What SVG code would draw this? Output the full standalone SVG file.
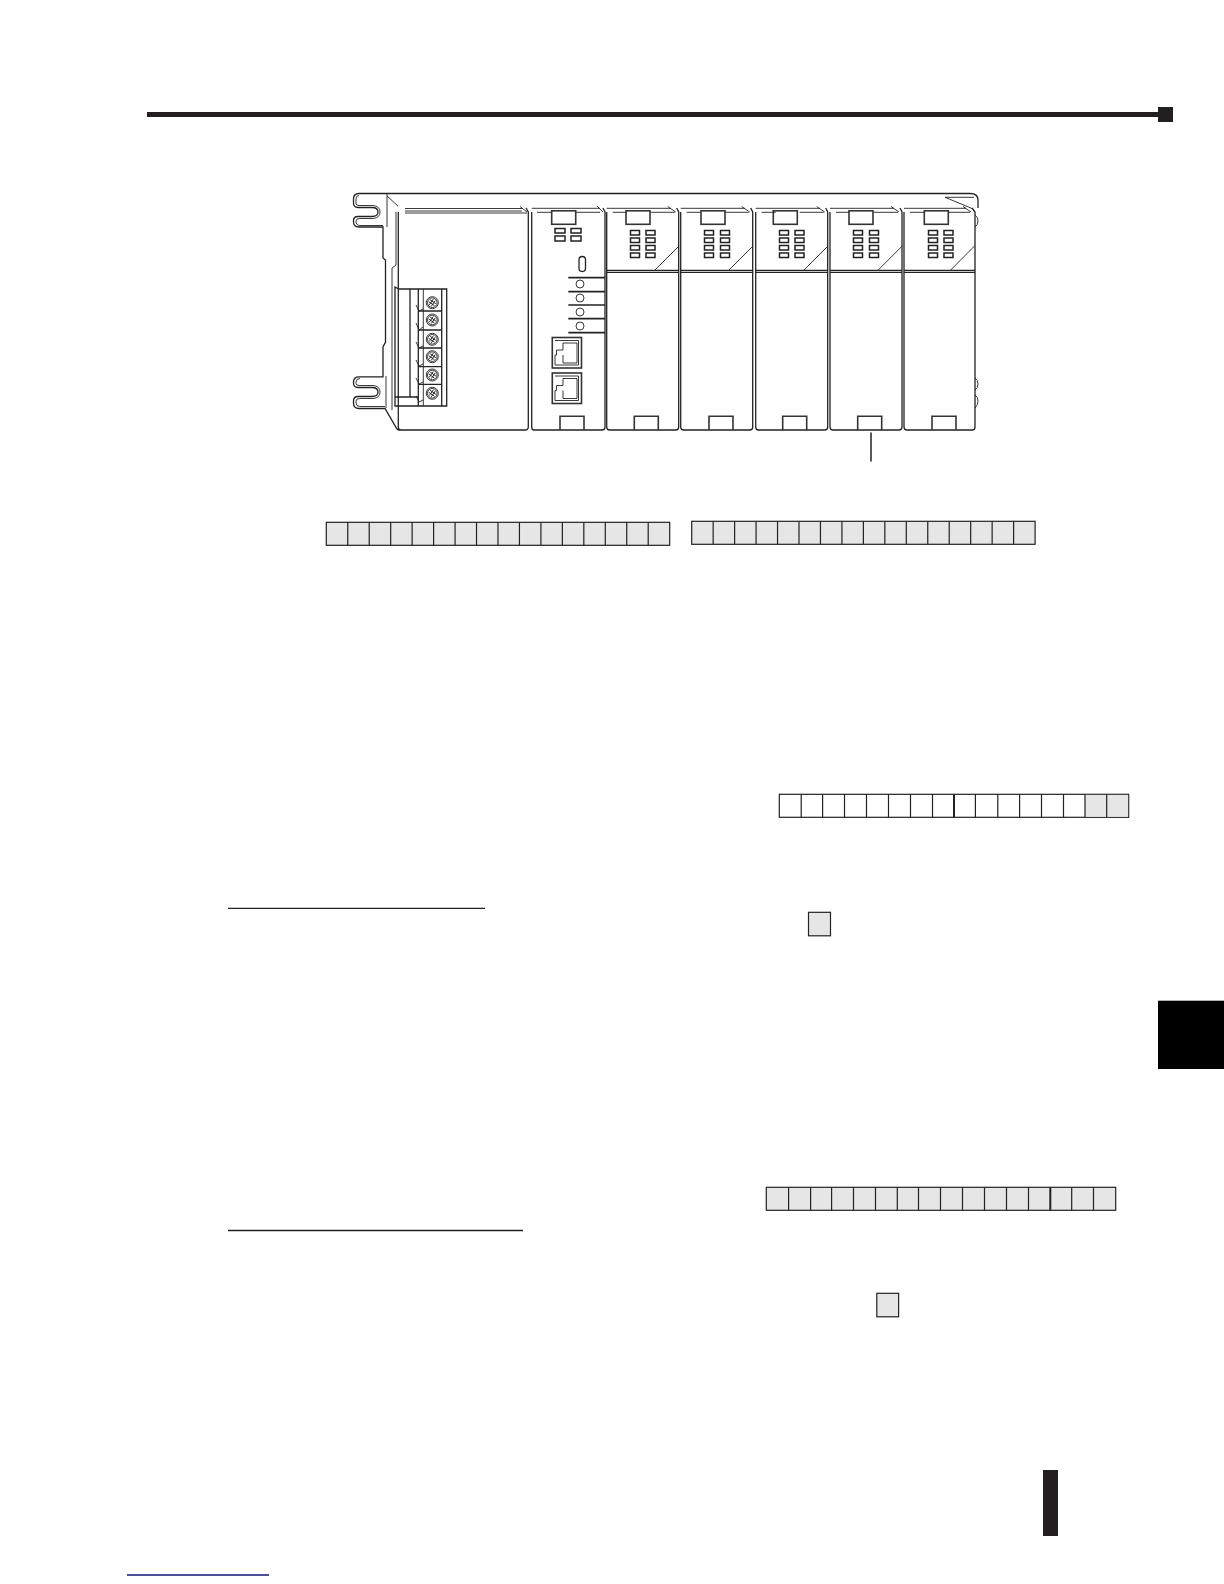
<svg xmlns="http://www.w3.org/2000/svg" width="1224" height="1584" viewBox="0 0 1224 1584">
<style>
.l{fill:none;stroke:#222;stroke-width:.9}
.m{fill:none;stroke:#222;stroke-width:1.3}
.t{fill:none;stroke:#333;stroke-width:1.6}
.h{fill:none;stroke:#222;stroke-width:1.7}
.led{fill:#fff;stroke:#222;stroke-width:1.5}
.g{fill:#e6e6e6;stroke:#222;stroke-width:1.2}
.w{fill:#fff;stroke:#222;stroke-width:1.2}
.d{fill:none;stroke:#222;stroke-width:1.2}
.b{fill:#231f20}
</style>
<defs>
<g id="io-top">
<path class="l" d="M0 208.300H64M61 206.500L69 212M6 212.300H20M44 212.300H68"/>
<path class="m" d="M0 270.300H72M0 272.300H72"/>
</g>
<path id="io-body" class="m" d="M0 212V427Q0 430 3 430H69Q72 430 72 427V212L70 208"/>
<g id="led-column">
<rect class="led" x="0" y="230.500" width="9" height="4.500"/>
<rect class="led" x="0" y="238" width="9" height="4.500"/>
<rect class="led" x="0" y="245.500" width="9" height="4.500"/>
<rect class="led" x="0" y="253" width="9" height="4.500"/>
</g>
<g id="screw">
<circle class="l" r="6"/>
<circle class="l" r="4.800"/>
<path class="l" d="M-3.500 -1.200H3.500M-3.500 1.200H3.500M-1.200 -3.500V3.500M1.200 -3.500V3.500" transform="rotate(35)"/>
</g>
<g id="tab-top"><rect class="t" x="0" y="210.800" width="24" height="13.500"/></g>
<g id="tab-bottom"><path class="t" d="M0 430V416.200H24V430"/></g>
<path id="strip-lines" class="d" d="M21.460 0V23M42.920 0V23M64.380 0V23M85.840 0V23M107.300 0V23M128.760 0V23M150.220 0V23M171.680 0V23M193.140 0V23M214.600 0V23M236.060 0V23M257.520 0V23M278.980 0V23M300.440 0V23M321.900 0V23"/>
</defs>

<g id="page-rule">
<rect class="b" x="147" y="112" width="1012" height="5"/>
<rect class="b" x="1158" y="107" width="15" height="15"/>
</g>

<g id="chassis">
<path class="m" d="M388 193.500H359Q353.500 193.500 353.500 199V203Q353.500 207.500 358 207.500H372Q378 207.500 378 212T372 216.500H358Q353.500 216.500 353.500 220.500V222Q353.500 227 359 227H383V258L385.500 260V342L383 347V376.800H359Q353.500 376.800 353.500 382V383Q353.500 387.500 358 387.500H372Q378 387.500 378 392T372 396.500H358Q353.500 396.500 353.500 401V403Q353.500 408.500 359 408.500H385L397 429Q398 430 400 430"/>
<path class="l" d="M359 195.500Q356 195.500 356 199V203.500Q356 205.500 359 205.500H373Q380 206 380 212Q380 218 373 218.500H360Q356 218.500 356 221Q356 225.500 360 225.500H383M360 378.500Q356 378.500 356 382V383.500Q356 385.500 359 385.500H373Q380 386 380 392Q380 398 373 398.500H360Q356 398.500 356 401V403Q356 406.500 360 406.500H385"/>
<path class="m" d="M388 193.500H970Q978 193.500 978 200V208"/>
<path class="l" d="M387 194V227M387 196L398 206M392 268V410M392 268L396 265V212M386 408V376"/>
<path class="l" d="M945 197.300H974M945 197.300L972 208.500"/>
<path class="l" d="M975 215Q978 217 978 221T975 227M975 378Q978 380 978 384T975 390M975 395Q978 397 978 401T975 408"/>
</g>

<g id="power-module">
<path class="m" d="M398.300 212V427Q398.300 430 401 430H525Q528.300 430 528.300 427V212L526 208"/>
<path class="l" d="M405 208.500H522M405 211H522M405 213H527M520 206.500L527 212"/>
<g id="terminal-block">
<path class="m" d="M395 287L399 289H446.700V406H395Z"/>
<path class="m" d="M410 289V397M395 397H418"/>
<path class="m" d="M418.300 289V406"/>
<path class="l" d="M423.300 289V406"/>
<path class="m" d="M441.700 289V406M418.300 311H441.700M418.300 330H441.700M418.300 348H441.700M418.300 366.700H441.700M418.300 384.300H441.700"/>
<path class="l" d="M416 305L419 311L423 309M416 323L419 330L423 327M416 342L419 348L423 346M416 360L419 366L423 364M416 378L419 384L423 382M416 396L419 402L423 400"/>
<use href="#screw" x="432.300" y="302.700"/>
<use href="#screw" x="432.300" y="320"/>
<use href="#screw" x="432.300" y="339.300"/>
<use href="#screw" x="432.300" y="356.700"/>
<use href="#screw" x="432.300" y="375"/>
<use href="#screw" x="432.300" y="393.300"/>
</g>
</g>

<g id="cpu-module">
<path class="m" d="M531.700 212V427Q531.700 430 534 430H602Q605 430 605 427V212L603 208"/>
<path class="l" d="M531.700 208.300H600M597 206L603 212M537 212.300H552M576 212.300H600"/>
<use href="#tab-top" x="551.700"/>
<rect class="led" x="555" y="228.500" width="10" height="4.500"/>
<rect class="led" x="571" y="228.500" width="10" height="4.500"/>
<rect class="led" x="555" y="236" width="10" height="5"/>
<rect class="led" x="571" y="236" width="10" height="5"/>
<rect class="m" x="579" y="256.500" width="6.500" height="15" rx="3.200"/>
<path class="h" d="M568.300 277.700H605M568.300 291.700H605M568.300 305H605M568.300 318.700H605M568.300 332.700H605"/>
<circle class="l" cx="580" cy="284" r="4"/>
<circle class="l" cx="580" cy="298" r="4"/>
<circle class="l" cx="580" cy="312" r="4"/>
<circle class="l" cx="580" cy="326" r="4"/>
<g id="port-1">
<rect class="t" x="552.300" y="337.500" width="29.200" height="30.500"/>
<path class="l" d="M555 340.500H578.500V365H555V355H556.500V350H563V343H577V363H563V355"/>
</g>
<g id="port-2">
<rect class="t" x="552.300" y="373" width="29.200" height="30.500"/>
<path class="l" d="M555 376H578.500V400.500H555V390.500H556.500V385.500H563V378.500H577V398.500H563V390.500"/>
</g>
<use href="#tab-bottom" x="560"/>
</g>

<g id="io-module-1">
<use href="#io-body" x="606.700"/>
<use href="#io-top" x="606.700"/>
<use href="#tab-top" x="626"/>
<use href="#led-column" x="630.500"/>
<use href="#led-column" x="646"/>
<path class="l" d="M655 270L679 246"/>
<use href="#tab-bottom" x="634.300"/>
</g>
<g id="io-module-2">
<use href="#io-body" x="680.700"/>
<use href="#io-top" x="680.700"/>
<use href="#tab-top" x="701"/>
<use href="#led-column" x="704.500"/>
<use href="#led-column" x="720.500"/>
<path class="l" d="M729 270L753 246"/>
<use href="#tab-bottom" x="709"/>
</g>
<g id="io-module-3">
<use href="#io-body" x="755.700"/>
<use href="#io-top" x="755.700"/>
<use href="#tab-top" x="773.300"/>
<use href="#led-column" x="779.500"/>
<use href="#led-column" x="795"/>
<path class="l" d="M804 270L828 246"/>
<use href="#tab-bottom" x="782.700"/>
</g>
<g id="io-module-4">
<use href="#io-body" x="830"/>
<use href="#io-top" x="830"/>
<use href="#tab-top" x="849"/>
<use href="#led-column" x="853.500"/>
<use href="#led-column" x="869.500"/>
<path class="l" d="M878.300 270L902.300 246"/>
<use href="#tab-bottom" x="857.700"/>
</g>
<g id="io-module-5">
<path class="m" d="M904 212V427Q904 430 907 430H972.500Q975 430 975 427V212L972 208"/>
<path class="l" d="M904 208.300H966M963 206.500L971 212M910 212.300H924M948 212.300H970"/>
<path class="m" d="M904 270.300H975M904 272.300H975"/>
<use href="#tab-top" x="924.300"/>
<use href="#led-column" x="928.500"/>
<use href="#led-column" x="944"/>
<path class="l" d="M950.700 270L974.500 246"/>
<use href="#tab-bottom" x="932"/>
</g>

<g id="connectors">
<path fill="none" stroke="#222" stroke-width="1.500" d="M871 432.500V461.500"/>
</g>

<g id="strip-a">
<rect class="g" x="326.300" y="522.300" width="343.400" height="23"/>
<use href="#strip-lines" x="326.300" y="522.300"/>
</g>
<g id="strip-b">
<rect class="g" x="691.700" y="521.300" width="343.400" height="23"/>
<use href="#strip-lines" x="691.700" y="521.300"/>
</g>
<g id="strip-c">
<rect class="w" x="779.300" y="794.300" width="349.400" height="23"/>
<rect fill="#e6e6e6" x="1084.800" y="794.900" width="43.300" height="21.800"/>
<path class="d" d="M801.200 794.300V817.300M822.600 794.300V817.300M844.500 794.300V817.300M866.500 794.300V817.300M888.500 794.300V817.300M910.500 794.300V817.300M932.500 794.300V817.300M975.400 794.300V817.300M997.800 794.300V817.300M1019.600 794.300V817.300M1041.500 794.300V817.300M1063.500 794.300V817.300M1085 794.300V817.300M1106.700 794.300V817.300"/>
<path fill="none" stroke="#222" stroke-width="2" d="M954 794.300V817.300"/>
</g>
<g id="cell-c">
<rect class="g" x="808.500" y="912.300" width="22" height="23.500"/>
</g>
<g id="strip-d">
<rect class="g" x="766.300" y="1187.300" width="349.400" height="23"/>
<path class="d" d="M788.600 1187.300V1210.300M810.600 1187.300V1210.300M831.600 1187.300V1210.300M853.500 1187.300V1210.300M875.500 1187.300V1210.300M897.300 1187.300V1210.300M918.500 1187.300V1210.300M940.500 1187.300V1210.300M962.500 1187.300V1210.300M984.500 1187.300V1210.300M1006.500 1187.300V1210.300M1028.500 1187.300V1210.300M1071.700 1187.300V1210.300M1093.500 1187.300V1210.300"/>
<path fill="none" stroke="#222" stroke-width="2" d="M1050.300 1187.300V1210.300"/>
</g>
<g id="cell-d">
<rect class="g" x="876.800" y="1293.300" width="21.800" height="23.500"/>
</g>

<g id="rules">
<path fill="none" stroke="#222" stroke-width="1.300" d="M228 908.300H485M228 1230.500H523"/>
</g>
<g id="thumb-tab"><rect fill="#000" x="1158" y="1000.700" width="66" height="68.300"/></g>
<g id="page-bar"><rect class="b" x="1043" y="1470" width="15" height="66"/></g>
<g id="link-rule"><path fill="none" stroke="#14147a" stroke-width="1.300" d="M127 1575H269"/></g>
</svg>
